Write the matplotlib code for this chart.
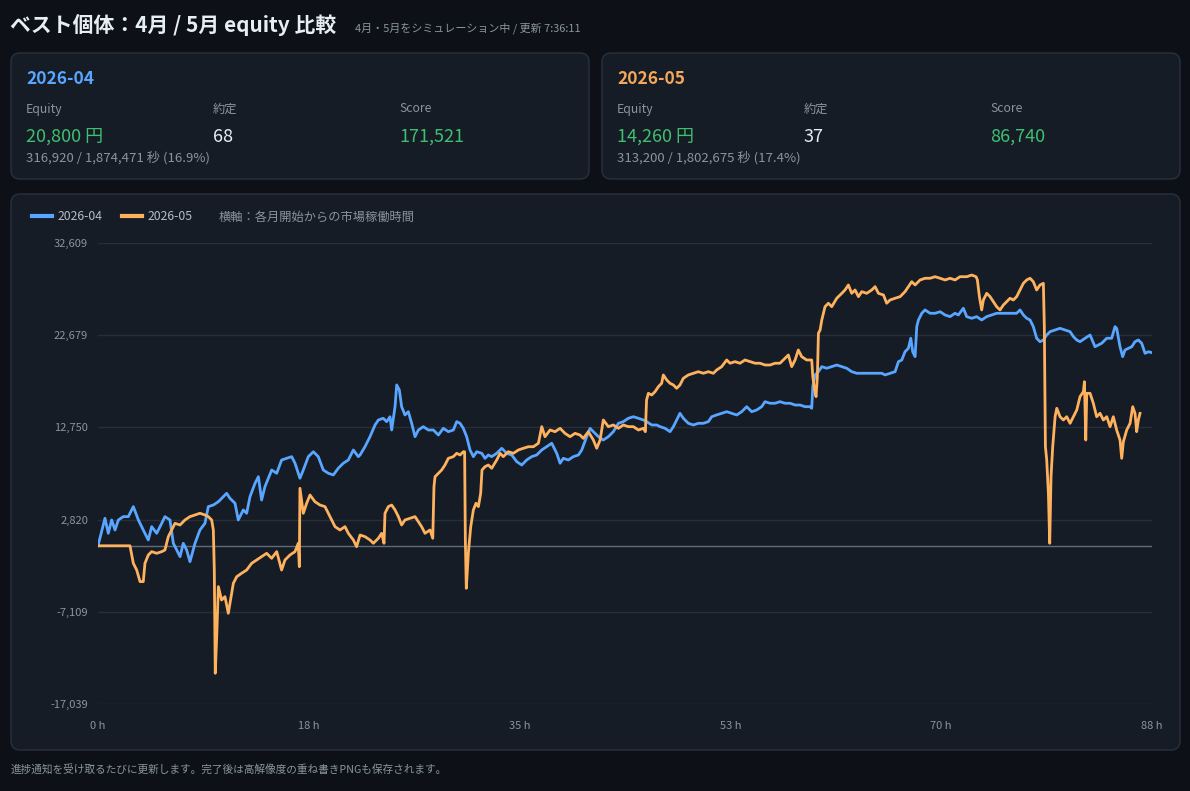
import matplotlib
matplotlib.use("Agg")
import matplotlib.pyplot as plt
from matplotlib.patches import FancyBboxPatch

plt.rcParams['font.family'] = ['Noto Sans CJK JP', 'DejaVu Sans']

# ---------------- data ----------------
title_text = "ベスト個体：4月 / 5月 equity 比較"
subtitle_text = "4月・5月をシミュレーション中 / 更新 7:36:11"
footer_text = "進捗通知を受け取るたびに更新します。完了後は高解像度の重ね書きPNGも保存されます。"
axis_note = "横軸：各月開始からの市場稼働時間"

series_names = ["2026-04", "2026-05"]
card_equity = ["20,800 円", "14,260 円"]
card_trades = ["68", "37"]
card_score = ["171,521", "86,740"]
card_progress = ["316,920 / 1,874,471 秒 (16.9%)", "313,200 / 1,802,675 秒 (17.4%)"]

y_ticks = [-17039, -7109, 2820, 12750, 22679, 32609]
y_tick_labels = ["-17,039", "-7,109", "2,820", "12,750", "22,679", "32,609"]
x_ticks = [0, 17.6, 35.2, 52.8, 70.4, 88]
x_tick_labels = ["0 h", "18 h", "35 h", "53 h", "70 h", "88 h"]

apr_hours = [0.0, 0.58, 0.86, 1.14, 1.42, 1.70, 2.11, 2.53, 2.95, 3.37, 3.78, 4.20, 4.48, 4.90,
             5.32, 5.59, 6.01, 6.29, 6.57, 6.85, 7.12, 7.40, 7.68, 8.10, 8.51, 8.93, 9.21, 9.63,
             10.05, 10.46, 10.74, 11.02, 11.44, 11.71, 12.13, 12.41, 12.69, 13.11, 13.39, 13.66,
             13.94, 14.50, 14.92, 15.33, 15.75, 16.17, 16.45, 16.86, 17.14, 17.56, 17.98, 18.39,
             18.81, 19.23, 19.65, 20.06, 20.48, 20.90, 21.32, 21.73, 21.88, 22.29, 22.71, 23.13,
             23.41, 23.82, 24.10, 24.38, 24.52, 24.80, 24.94, 25.16, 25.35, 25.63, 25.91, 26.19,
             26.47, 26.75, 27.16, 27.58, 28.00, 28.42, 28.83, 29.25, 29.67, 29.95, 30.23, 30.50,
             30.78, 31.06, 31.34, 31.62, 32.04, 32.31, 32.59, 32.87, 33.29, 33.71, 34.12, 34.54,
             34.96, 35.38, 35.79, 36.21, 36.63, 37.05, 37.46, 37.88, 38.30, 38.58, 38.85, 39.27,
             39.69, 40.11, 40.39, 40.80, 41.08, 41.36, 41.78, 42.19, 42.61, 43.03, 43.45, 43.86,
             44.28, 44.70, 45.12, 45.53, 45.81, 46.23, 46.65, 46.93, 47.34, 47.76, 48.04, 48.31,
             48.59, 48.87, 49.29, 49.71, 50.12, 50.54, 50.96, 51.24, 51.65, 52.07, 52.49, 52.91,
             53.33, 53.74, 54.16, 54.58, 55.00, 55.41, 55.69, 56.11, 56.53, 56.94, 57.36, 57.78,
             58.20, 58.61, 59.03, 59.45, 59.59, 59.68, 59.87, 60.15, 60.43, 60.84, 61.26, 61.68,
             62.10, 62.51, 62.93, 63.35, 63.77, 64.18, 64.60, 65.02, 65.44, 65.71, 66.13, 66.55,
             66.83, 67.11, 67.38, 67.66, 67.86, 68.02, 68.22, 68.36, 68.50, 68.78, 69.05, 69.47,
             69.89, 70.31, 70.72, 71.14, 71.55, 71.83, 72.25, 72.53, 72.95, 73.36, 73.78, 74.20,
             74.62, 75.03, 75.45, 75.87, 76.29, 76.70, 76.98, 77.26, 77.54, 77.82, 78.09, 78.37,
             78.65, 78.93, 79.21, 79.49, 79.91, 80.32, 80.74, 81.16, 81.44, 81.72, 81.99, 82.41,
             82.83, 83.24, 83.52, 83.80, 84.22, 84.63, 84.91, 85.05, 85.33, 85.55, 85.75, 86.03,
             86.31, 86.58, 86.86, 87.14, 87.42, 87.70, 87.98]
apr_equity = [0, 2960, 1345, 2780, 1700, 2780, 3140, 3140, 4220, 2780, 1700, 625, 2060, 1345,
              2420, 3140, 2780, 270, -450, -1170, 270, -450, -1710, 270, 1700, 2420, 4220, 4390,
              4750, 5290, 5650, 5110, 4580, 2780, 3860, 3500, 5290, 6730, 7440, 4930,
              6370, 8160, 7810, 9240, 9420, 9600, 8890, 7270, 8160, 9600, 10130, 9600,
              8160, 7810, 7630, 8350, 8890, 9240, 10320, 9600, 9780, 10670, 11750, 13010,
              13550, 13730, 13370, 13900, 12470, 14980, 17320, 16780, 14980, 14090, 14440, 13190,
              11750, 12470, 12830, 12470, 12470, 11930, 12650, 12290, 12470, 13370, 13190, 12650,
              11750, 10320, 9600, 10130, 9960, 9420, 9780, 9600, 9960, 10500, 9960, 9780,
              9060, 8700, 9240, 9600, 9780, 10320, 10670, 11040, 9960, 8890, 9420, 9240,
              9600, 9780, 10320, 11750, 12650, 12290, 11750, 11390, 11750, 12290, 13190, 13370,
              13730, 13900, 13730, 13550, 13370, 13010, 13010, 12830, 12650, 12290, 12830, 13550,
              14270, 13730, 13190, 13010, 13190, 13190, 13370, 13900, 14090, 14270, 14440, 14270,
              14090, 14440, 14980, 14440, 14630, 14980, 15520, 15350, 15350, 15520, 15350, 15350,
              15160, 15160, 14980, 14980, 14810, 17140, 18400, 18750, 19290, 19120, 19290, 19470,
              19290, 19120, 18750, 18580, 18580, 18580, 18580, 18580, 18580, 18400, 18580, 18750,
              19830, 20010, 20900, 21270, 22350, 20900, 20370, 23600, 24320, 25040, 25400, 25040,
              25040, 25210, 24860, 24680, 25040, 24860, 25580, 24680, 24500, 24680, 24320, 24680,
              24860, 25040, 25040, 25040, 25040, 25040, 25400, 24860, 24500, 24320, 23600, 22350,
              21980, 22160, 22700, 23060, 23240, 23420, 23240, 23060, 22520, 22160, 21980, 22350,
              22700, 21440, 21630, 21810, 22350, 22350, 23600, 23420, 21440, 20370, 21090, 21270,
              21440, 21980, 22160, 21810, 20730, 20900, 20800]

may_hours = [0.0, 2.67, 2.95, 3.23, 3.51, 3.78, 3.92, 4.20, 4.48, 4.90, 5.32, 5.59, 5.87, 6.15,
             6.43, 6.85, 7.26, 7.68, 8.10, 8.51, 8.93, 9.21, 9.49, 9.63, 9.71, 9.79, 9.91, 10.05,
             10.32, 10.60, 10.88, 11.02, 11.30, 11.58, 11.99, 12.41, 12.83, 13.24, 13.66, 14.08,
             14.50, 14.92, 15.33, 15.61, 16.03, 16.45, 16.72, 16.81, 16.86, 17.14, 17.42, 17.70,
             18.11, 18.53, 18.95, 19.37, 19.79, 20.20, 20.62, 20.90, 21.32, 21.59, 21.88, 22.29,
             22.71, 22.99, 23.41, 23.68, 23.88, 23.96, 24.24, 24.52, 24.80, 25.08, 25.35, 25.63,
             26.05, 26.47, 26.75, 27.02, 27.30, 27.72, 27.95, 28.05, 28.14, 28.42, 28.69, 28.97,
             29.25, 29.67, 29.95, 30.23, 30.50, 30.61, 30.67, 30.75, 30.92, 31.12, 31.34, 31.56,
             31.76, 31.95, 32.06, 32.31, 32.59, 32.87, 33.29, 33.57, 33.84, 34.26, 34.68, 35.10,
             35.51, 35.93, 36.35, 36.77, 37.05, 37.32, 37.74, 38.16, 38.58, 38.99, 39.41, 39.83,
             40.24, 40.52, 40.94, 41.36, 41.64, 41.92, 42.19, 42.61, 43.03, 43.45, 43.86, 44.28,
             44.70, 45.12, 45.53, 45.70, 45.80, 45.95, 46.23, 46.51, 46.79, 47.06, 47.20, 47.48,
             47.76, 48.04, 48.31, 48.59, 48.87, 49.29, 49.71, 50.12, 50.54, 50.96, 51.38, 51.65,
             52.07, 52.49, 52.77, 53.19, 53.60, 54.02, 54.44, 54.86, 55.27, 55.69, 56.11, 56.53,
             56.94, 57.36, 57.64, 57.92, 58.20, 58.47, 58.75, 59.17, 59.45, 59.59, 59.68, 59.79,
             59.95, 60.06, 60.15, 60.29, 60.43, 60.70, 60.98, 61.26, 61.68, 62.10, 62.37, 62.65,
             62.93, 63.21, 63.49, 63.77, 64.18, 64.60, 64.88, 65.16, 65.58, 65.85, 66.13, 66.55,
             66.97, 67.38, 67.66, 67.94, 68.22, 68.64, 69.05, 69.47, 69.89, 70.31, 70.72, 71.14,
             71.56, 71.97, 72.53, 72.95, 73.31, 73.42, 73.59, 73.78, 73.92, 74.20, 74.48, 74.75,
             75.03, 75.31, 75.59, 75.87, 76.15, 76.42, 76.70, 76.98, 77.26, 77.54, 77.82, 78.09,
             78.37, 78.65, 78.93, 79.01, 79.10, 79.21, 79.35, 79.46, 79.57, 79.71, 79.91, 80.05,
             80.32, 80.60, 80.88, 81.16, 81.44, 81.72, 81.99, 82.27, 82.36, 82.47, 82.55, 82.83,
             83.10, 83.38, 83.66, 83.94, 84.22, 84.50, 84.77, 85.05, 85.33, 85.47, 85.61, 85.89,
             86.17, 86.39, 86.58, 86.72, 86.86, 87.00]
may_equity = [0, 0, -1885, -2610, -3860, -3860, -1885, -990, -630, -810, -630, -450, 985, 1700,
              2420, 2240, 2780, 3140, 3320, 3500, 3320, 3140, 2780, 1700, -2610, -13730, -9790, -4400,
              -5840, -5480, -7270, -6190, -4040, -3330, -2960, -2610, -1885, -1530, -1170, -810,
              -1345, -630, -2610, -1530, -990, -630, 270, -2250, 6190, 3500, 4580, 5470,
              4750, 4390, 4220, 3140, 2060, 1700, 2060, 1345, 625, -95, 1160, 985,
              625, 270, 810, 1345, 270, 3500, 4220, 4390, 3860, 3140, 2240, 2780,
              2960, 3140, 2600, 2060, 1345, 1700, 810, 6370, 7440, 7810, 8160, 8700,
              9420, 9600, 9960, 9780, 10130, 10130, 625, -4580, -810, 2060, 3860, 4580,
              4220, 5650, 8160, 8520, 8700, 8350, 9240, 9960, 9600, 10130, 9960, 10320,
              10500, 10670, 10670, 11040, 12830, 11750, 12470, 12290, 12650, 12110, 11750, 12110,
              11930, 11570, 12290, 11390, 10500, 11390, 13550, 12830, 13010, 12650, 13010, 12830,
              12830, 12470, 12650, 12290, 15700, 16420, 16240, 16600, 17140, 17500, 18400, 17860,
              17500, 17320, 16960, 17320, 18040, 18400, 18580, 18750, 18580, 18750, 18580, 18930,
              19290, 20010, 19660, 19830, 19660, 20010, 19830, 19660, 19660, 19470, 19470, 19660,
              19660, 20190, 20550, 19290, 20010, 21090, 20370, 20010, 20010, 20010, 18210, 17140,
              16060, 18210, 22890, 23240, 24320, 25750, 26120, 25750, 26660, 27190, 27550, 28090,
              27190, 27550, 26830, 27370, 27190, 27550, 27910, 27190, 27010, 26120, 26470, 26660,
              26830, 27370, 27910, 28440, 28090, 28630, 28810, 28810, 28980, 28810, 28630, 28810,
              28630, 28980, 28980, 29160, 28980, 28630, 26830, 25400, 26470, 27190, 26830, 26290,
              25750, 25400, 25930, 26290, 26660, 26470, 26830, 27550, 28270, 28630, 28810, 28440,
              27550, 28090, 28270, 23600, 10680, 9240, 5650, 270, 7450, 10680, 13900, 14810,
              13900, 13550, 13900, 13190, 13900, 14630, 16060, 16600, 17670, 11390, 16420, 16420,
              15350, 13900, 14270, 13550, 13900, 12830, 13900, 12470, 11390, 9420, 11210, 12470,
              13190, 14980, 14270, 12290, 13550, 14260]

# ---------------- style ----------------
W, H = 1190, 791
PAGE = "#0d1117"
CARD = "#161c26"
BORDER = "#2a313c"
GRID = "#262e3a"
ZERO = "#5f6b78"
MUTED = "#8b949e"
LEGEND_TXT = "#b4bdc8"
GREEN = "#3fbf6f"
WHITE = "#e6edf3"
BLUE = "#58a6ff"
ORANGE = "#ffb25e"
BLUE_T = "#58a6ff"
ORANGE_T = "#f5a85a"

fig = plt.figure(figsize=(W / 100, H / 100), dpi=100, facecolor=PAGE)

bg = fig.add_axes([0, 0, 1, 1], zorder=0)
bg.set_xlim(0, W)
bg.set_ylim(H, 0)
bg.axis("off")
bg.set_facecolor(PAGE)


def panel(x0, y0, x1, y1):
    p = FancyBboxPatch((x0, y0), x1 - x0, y1 - y0,
                       boxstyle="round,pad=0,rounding_size=9",
                       facecolor=CARD, edgecolor=BORDER, linewidth=1.0)
    bg.add_patch(p)


# title
bg.text(10, 25, title_text, fontsize=15, fontweight="bold", color=WHITE, va="center", ha="left")
bg.text(355, 28, subtitle_text, fontsize=7.9, color=MUTED, va="center", ha="left")

# cards
card_boxes = [(11, 53, 589, 179), (602, 53, 1180, 179)]
title_colors = [BLUE_T, ORANGE_T]
for i, (x0, y0, x1, y1) in enumerate(card_boxes):
    panel(x0, y0, x1, y1)
    lx = x0 + 15
    bg.text(lx, 79, series_names[i], fontsize=12.5, fontweight="bold", color=title_colors[i],
            va="center", ha="left")
    cols = [lx, lx + 187, lx + 373]
    for cx, lab in zip(cols, ["Equity", "約定", "Score"]):
        bg.text(cx, 109, lab, fontsize=8.8, color=MUTED, va="center", ha="left")
    bg.text(cols[0], 137, card_equity[i], fontsize=13, color=GREEN, va="center", ha="left")
    bg.text(cols[1], 137, card_trades[i], fontsize=13, color=WHITE, va="center", ha="left")
    bg.text(cols[2], 137, card_score[i], fontsize=13, color=GREEN, va="center", ha="left")
    bg.text(cols[0], 158, card_progress[i], fontsize=9.5, color=MUTED, va="center", ha="left")

# chart panel
panel(11, 194, 1180, 750)

# footer
bg.text(11, 770, footer_text, fontsize=7.7, color=MUTED, va="center", ha="left")

# main axes
ax = fig.add_axes([98 / W, 1 - 704 / H, (1152 - 98) / W, (704 - 243) / H], zorder=2)
ax.set_facecolor("none")
for s in ax.spines.values():
    s.set_visible(False)
ax.set_xlim(0, 88)
ax.set_ylim(y_ticks[0], y_ticks[-1])
ax.set_yticks(y_ticks)
ax.set_yticklabels(y_tick_labels)
ax.set_xticks(x_ticks)
ax.set_xticklabels(x_tick_labels)
ax.tick_params(axis="both", length=0, labelcolor=MUTED, labelsize=8)
ax.tick_params(axis="y", pad=7)
ax.tick_params(axis="x", pad=12)
ax.yaxis.grid(True, color=GRID, linewidth=1.0)
ax.set_axisbelow(True)
ax.axhline(0, color=ZERO, linewidth=1.0, zorder=1.5)

l1, = ax.plot(apr_hours, apr_equity, color=BLUE, linewidth=2.0, solid_joinstyle="round",
              label=series_names[0], zorder=3)
l2, = ax.plot(may_hours, may_equity, color=ORANGE, linewidth=2.0, solid_joinstyle="round",
              label=series_names[1], zorder=3)

leg = fig.legend(handles=[l1, l2], loc="center left", bbox_to_anchor=(32 / W, 1 - 217 / H),
                 ncol=2, frameon=False, fontsize=8.8, handlelength=1.6, handletextpad=0.5,
                 columnspacing=1.6, borderpad=0, borderaxespad=0)
for t in leg.get_texts():
    t.set_color(LEGEND_TXT)
for ln in leg.get_lines():
    ln.set_linewidth(3)

bg.text(219, 217, axis_note, fontsize=8.8, color=MUTED, va="center", ha="left")

fig.savefig("out.png", dpi=100, facecolor=PAGE)
